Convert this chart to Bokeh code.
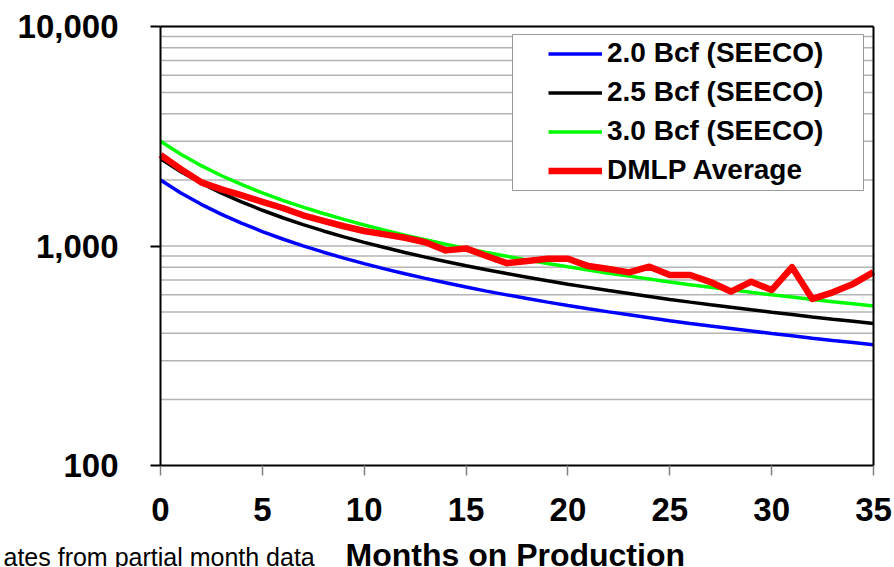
from bokeh.plotting import figure
from bokeh.models import (Range1d, FixedTicker, NumeralTickFormatter, Legend, LegendItem,
                          BoxAnnotation, Label, LinearAxis, LogAxis)
from bokeh.embed import file_html
from bokeh.resources import INLINE

# ---------------- data ----------------
months = list(range(36))
bcf_20 = [2000, 1744, 1548, 1393, 1268, 1164, 1076, 1002, 937, 881, 831, 787,
          747, 712, 680, 650, 623, 599, 576, 555, 536, 518, 501, 486, 471, 457,
          444, 432, 421, 410, 399, 390, 380, 371, 363, 355]
bcf_25 = [2500, 2180, 1935, 1741, 1585, 1455, 1345, 1252, 1171, 1101, 1039, 984,
          934, 890, 850, 813, 779, 749, 721, 694, 670, 648, 627, 608, 589, 571,
          555, 540, 526, 512, 499, 487, 475, 464, 454, 444]
bcf_30 = [3000, 2616, 2322, 2090, 1902, 1746, 1614, 1503, 1406, 1322, 1247, 1181,
          1121, 1068, 1019, 975, 935, 898, 864, 833, 804, 777, 752, 729, 707, 686,
          666, 648, 632, 615, 599, 585, 570, 557, 545, 533]
dmlp_avg = [2600, 2240, 1950, 1810, 1700, 1590, 1490, 1380, 1300, 1230, 1170, 1130,
            1090, 1040, 955, 975, 900, 835, 855, 875, 875, 810, 785, 758, 805, 738,
            738, 685, 620, 688, 630, 800, 574, 615, 672, 760]
series_labels = ["2.0 Bcf (SEECO)", "2.5 Bcf (SEECO)", "3.0 Bcf (SEECO)", "DMLP Average"]
x_ticks = [0, 5, 10, 15, 20, 25, 30, 35]
y_major = [100, 1000, 10000]
y_minor = [200, 300, 400, 500, 600, 700, 800, 900,
           2000, 3000, 4000, 5000, 6000, 7000, 8000, 9000]
x_title = "Months on Production"
footnote = "ates from partial month data"

# ---------------- geometry (pixels) ----------------
FONT = "Liberation Sans"
W, H = 894, 567
A_LEFT, A_TOP, A_RIGHT, A_BOTTOM = 160, 26, 873, 465   # plotting box of the chart
x0, x1 = x_ticks[0], x_ticks[-1]
y0, y1 = y_major[0], y_major[-1]
px_per_x = (A_RIGHT - A_LEFT) / (x1 - x0)
px_per_decade = (A_BOTTOM - A_TOP) / 2.0
# the Bokeh frame covers the whole canvas; the chart box sits inside it
xr = Range1d(x0 - A_LEFT / px_per_x, x1 + (W - A_RIGHT) / px_per_x)
yr = Range1d(y0 / 10 ** ((H - A_BOTTOM) / px_per_decade),
             y1 * 10 ** (A_TOP / px_per_decade))

p = figure(width=W, height=H, x_range=xr, y_range=yr, y_axis_type="log",
           output_backend="svg", toolbar_location=None, min_border=0,
           min_border_left=0, min_border_right=0, min_border_top=0, min_border_bottom=0)
p.background_fill_color = "white"
p.border_fill_color = "white"
p.outline_line_color = None
p.xgrid.visible = False
p.ygrid.visible = False

# horizontal grid lines across the chart box (major + minor decades)
grid_vals = y_major[1:] + y_minor
p.segment(x0=x0, x1=x1, y0=grid_vals, y1=grid_vals, line_color="#b4b4b4", line_width=1.5)

# axes drawn at fixed data locations
xa = p.xaxis[0]
ya = p.yaxis[0]
xa.fixed_location = y0
xa.bounds = (x0, x1)
xa.ticker = FixedTicker(ticks=x_ticks)
ya.fixed_location = x0
ya.bounds = (y0, y1)
ya.ticker = FixedTicker(ticks=y_major)
ya.formatter = NumeralTickFormatter(format="0,0")

for ax in (xa, ya):
    ax.axis_line_color = "black"
    ax.axis_line_width = 2
    ax.major_tick_in = 0
    ax.major_tick_out = 10
    ax.minor_tick_line_color = None
    ax.major_label_text_font = FONT
    ax.major_label_text_font_style = "bold"
    ax.major_label_text_font_size = "33px"
    ax.major_label_text_color = "black"

ya.major_tick_line_color = "black"
ya.major_tick_line_width = 2
ya.major_label_standoff = 32
xa.major_tick_line_color = "#808080"
xa.major_tick_line_width = 1.5
xa.major_label_standoff = 22

# top and right border lines of the chart box
top_border = LinearAxis(fixed_location=y1, bounds=(x0, x1), ticker=FixedTicker(ticks=[]),
                        axis_line_color="black", axis_line_width=2,
                        major_tick_line_color=None, minor_tick_line_color=None,
                        major_label_text_font_size="0px")
right_border = LogAxis(fixed_location=x1, bounds=(y0, y1), ticker=FixedTicker(ticks=[]),
                       axis_line_color="black", axis_line_width=2,
                       major_tick_line_color=None, minor_tick_line_color=None,
                       major_label_text_font_size="0px")
p.add_layout(top_border, "above")
p.add_layout(right_border, "right")

r1 = p.line(months, bcf_20, line_color="#0000ff", line_width=3.5)
r2 = p.line(months, bcf_25, line_color="#000000", line_width=3.5)
r3 = p.line(months, bcf_30, line_color="#00ff00", line_width=3.5)
r4 = p.line(months, dmlp_avg, line_color="#ff0000", line_width=6.5, line_join="round")

# legend box (screen px from the canvas bottom-left)
box = BoxAnnotation(left=512, right=863, top=H - 34, bottom=H - 190,
                    left_units="screen", right_units="screen",
                    top_units="screen", bottom_units="screen",
                    fill_color="white", fill_alpha=1.0,
                    line_color="#9a9a9a", line_width=1, line_alpha=1.0)
p.add_layout(box)

legend = Legend(items=[LegendItem(label=lab, renderers=[r])
                       for lab, r in zip(series_labels, [r1, r2, r3, r4])],
                location=(548, H - 189.5), padding=0, margin=0, spacing=0,
                glyph_width=54, glyph_height=39, label_height=39, label_standoff=5,
                label_text_font=FONT, label_text_font_style="bold",
                label_text_font_size="28px", label_text_color="black",
                border_line_color=None, background_fill_alpha=0)
p.add_layout(legend)

p.add_layout(Label(x=345, y=13, x_units="screen", y_units="screen", text=x_title,
                   text_font=FONT, text_font_style="bold", text_font_size="32px",
                   text_color="black", text_baseline="middle"))
p.add_layout(Label(x=3, y=11, x_units="screen", y_units="screen", text=footnote,
                   text_font=FONT, text_font_size="25px",
                   text_color="black", text_baseline="middle"))

open("out.html", "w").write(file_html(p, INLINE))
